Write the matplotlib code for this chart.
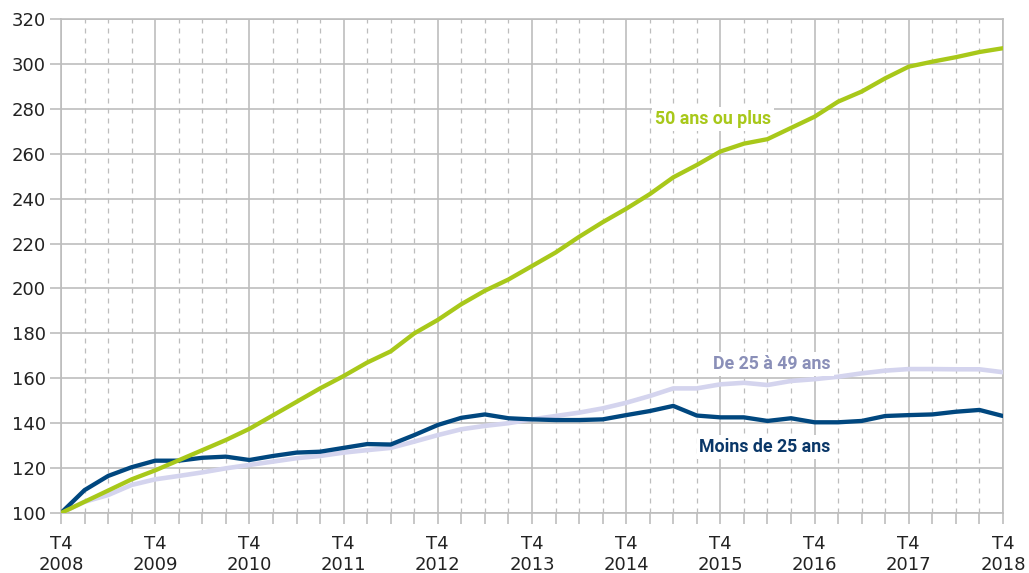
import matplotlib
matplotlib.use("Agg")
import matplotlib.pyplot as plt
import numpy as np
from matplotlib.ticker import MultipleLocator

# quarterly index, T4 2008 = 100
years = [2008, 2009, 2010, 2011, 2012, 2013, 2014, 2015, 2016, 2017, 2018]
tick_labels = [f"T4\n{y}" for y in years]

plus_50 = [100, 105, 110, 115, 119,
           123.5, 128, 132.5, 137.5,
           143.5, 149.5, 155.5, 161,
           167, 172, 180, 186,
           193, 199, 204, 210,
           216, 223, 229.5, 235.5,
           242, 249.5, 255, 261,
           264.5, 266.5, 271.5, 276.5,
           283.2, 287.7, 293.6, 298.8,
           301, 303, 305.3, 307]

de_25_49 = [100, 105, 108, 112.5, 115,
            116.5, 118.1, 119.9, 121.4,
            122.9, 124.4, 125.4, 126.9,
            128, 129, 131.8, 134.7,
            137.3, 138.8, 140, 141.7,
            143.2, 144.7, 146.6, 149.1,
            152.1, 155.5, 155.5, 157.3,
            158, 157, 158.8, 159.6,
            160.7, 162.2, 163.4, 164.1,
            164.1, 164, 164, 162.7]

moins_25 = [100, 110.2, 116.5, 120.4, 123.3,
            123.3, 124.6, 125.1, 123.6,
            125.4, 126.9, 127.3, 129,
            130.7, 130.5, 134.7, 139.2,
            142.4, 143.9, 142.2, 141.7,
            141.4, 141.4, 141.7, 143.6,
            145.4, 147.7, 143.4, 142.6,
            142.6, 141, 142.2, 140.4,
            140.4, 141, 143.2, 143.6,
            143.9, 145.1, 145.9, 143.2]

x = np.arange(len(plus_50))

GREEN = "#a8c81a"
NAVY = "#00477f"
LAV = "#d4d4ee"
GRID = "#bdbdbd"

fig = plt.figure(figsize=(10.29, 5.73), dpi=100)
ax = fig.add_axes([0.0593, 0.1047, 0.9154, 0.8621])

ax.plot(x, de_25_49, color=LAV, lw=3.3, solid_capstyle="round", zorder=3)
ax.plot(x, moins_25, color=NAVY, lw=3.1, solid_capstyle="round", zorder=4)
ax.plot(x, plus_50, color=GREEN, lw=3.1, solid_capstyle="round", zorder=5)

ax.set_xlim(0, 40)
ax.set_ylim(100, 320)
ax.yaxis.set_major_locator(MultipleLocator(20))
ax.set_xticks(np.arange(0, 41, 4))
ax.set_xticklabels(tick_labels)
ax.xaxis.set_minor_locator(MultipleLocator(1))

ax.grid(axis="y", which="major", color=GRID, lw=1.2, zorder=1)
ax.grid(axis="x", which="major", color=GRID, lw=1.2, zorder=1)
ax.grid(axis="x", which="minor", color=GRID, lw=0.9, ls=(0, (4, 4)), zorder=1)
ax.set_axisbelow(True)

for s in ax.spines.values():
    s.set_color(GRID)
    s.set_linewidth(1.2)

ax.tick_params(axis="x", which="both", direction="out", length=8, width=1.2, color=GRID,
               labelsize=13, labelcolor="#222222", pad=8)
ax.tick_params(axis="y", which="major", direction="out", length=8, width=1.2, color=GRID,
               labelsize=13, labelcolor="#222222", pad=3)

box = dict(facecolor="white", edgecolor="none", pad=2)
ax.text(27.7, 275.5, "50 ans ou plus", color=GREEN, fontsize=12.8, fontweight="bold",
        ha="center", va="center", bbox=box, zorder=6, family="Roboto")
ax.text(30.2, 166.4, "De 25 à 49 ans", color="#8a8fb8", fontsize=12.8, fontweight="bold",
        ha="center", va="center", bbox=box, zorder=6, family="Roboto")
ax.text(29.9, 129.4, "Moins de 25 ans", color="#0a3768", fontsize=12.8, fontweight="bold",
        ha="center", va="center", bbox=box, zorder=6, family="Roboto")

fig.savefig("out.png", dpi=100)
